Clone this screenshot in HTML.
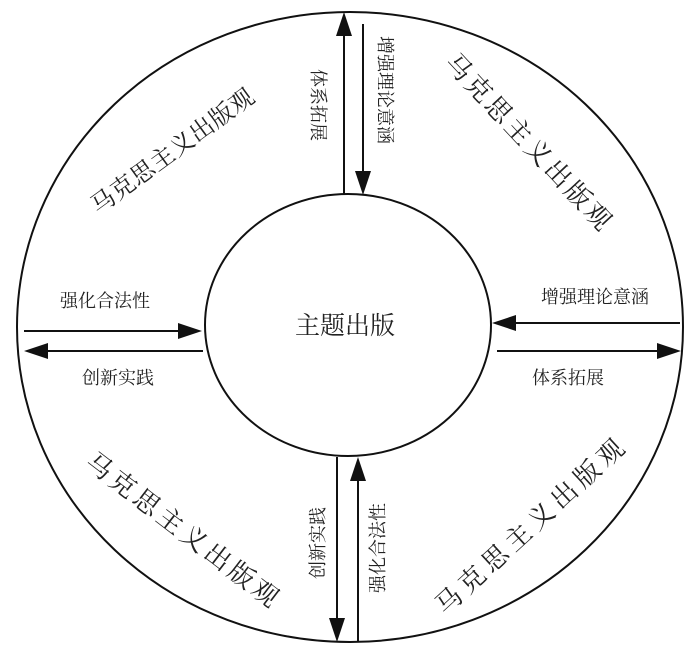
<!DOCTYPE html>
<html><head><meta charset="utf-8"><style>
html,body{margin:0;padding:0;background:#fff}
svg{display:block}
text{font-family:"Liberation Serif","Noto Serif CJK SC",serif;fill:#222}
</style></head><body>
<svg width="700" height="654" viewBox="0 0 700 654">
<ellipse cx="350" cy="327" rx="333" ry="315" fill="none" stroke="#111" stroke-width="2"/>
<ellipse cx="348" cy="325" rx="143" ry="131" fill="none" stroke="#111" stroke-width="2"/>
<g stroke="#111" stroke-width="2">
<line x1="344" y1="194" x2="344" y2="35"/>
<line x1="363" y1="24" x2="363" y2="172"/>
<line x1="337" y1="457" x2="337" y2="620"/>
<line x1="358" y1="642" x2="358" y2="478"/>
<line x1="24" y1="331" x2="180" y2="331"/>
<line x1="203" y1="351" x2="46" y2="351"/>
<line x1="680" y1="323" x2="515" y2="323"/>
<line x1="497" y1="351" x2="658" y2="351"/>
</g>
<g fill="#111">
<polygon points="344,12 336,36 352,36"/>
<polygon points="363,195 355,171 371,171"/>
<polygon points="337,642 329,618 345,618"/>
<polygon points="358,457 350,481 366,481"/>
<polygon points="202,331 178,323 178,339"/>
<polygon points="24,351 48,343 48,359"/>
<polygon points="492,323 516,315 516,331"/>
<polygon points="681,351 657,343 657,359"/>
</g>
<text x="345" y="334" font-size="25" text-anchor="middle">主题出版</text>
<text x="105" y="307" font-size="18" text-anchor="middle">强化合法性</text>
<text x="118" y="384" font-size="18" text-anchor="middle">创新实践</text>
<text x="595" y="303" font-size="18" text-anchor="middle">增强理论意涵</text>
<text x="568" y="384" font-size="18" text-anchor="middle">体系拓展</text>
<text transform="translate(318,105) rotate(90)" font-size="18" text-anchor="middle" dominant-baseline="central">体系拓展</text>
<text transform="translate(385,90) rotate(90)" font-size="18" text-anchor="middle" dominant-baseline="central">增强理论意涵</text>
<text transform="translate(318,543) rotate(-90)" font-size="18" text-anchor="middle" dominant-baseline="central">创新实践</text>
<text transform="translate(378,548) rotate(-90)" font-size="18" text-anchor="middle" dominant-baseline="central">强化合法性</text>
<text transform="translate(173,152) rotate(-36)" font-size="24" text-anchor="middle" dominant-baseline="central" textLength="195" lengthAdjust="spacing">马克思主义出版观</text>
<text transform="translate(528,142) rotate(47)" font-size="26" text-anchor="middle" dominant-baseline="central" textLength="230" lengthAdjust="spacing">马克思主义出版观</text>
<text transform="translate(182,530) rotate(37.5)" font-size="26" text-anchor="middle" dominant-baseline="central" textLength="235" lengthAdjust="spacing">马克思主义出版观</text>
<text transform="translate(530,527) rotate(-42.5)" font-size="26" text-anchor="middle" dominant-baseline="central" textLength="245" lengthAdjust="spacing">马克思主义出版观</text>
</svg>
</body></html>
